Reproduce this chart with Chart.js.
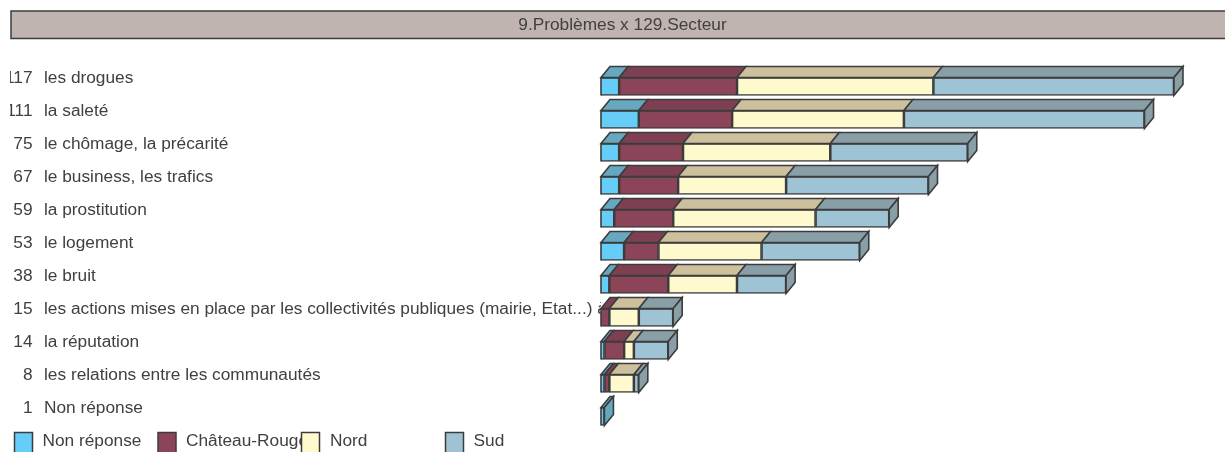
<!DOCTYPE html>
<html>
<head>
<meta charset="utf-8">
<title>9.Problèmes x 129.Secteur</title>
<script src="https://cdn.jsdelivr.net/npm/chart.js@4"></script>
<style>
body { margin: 0; background: #fff; }
canvas { display: block; }
</style>
</head>
<body>
<canvas id="chart" width="1225" height="452"></canvas>
<script>
const chartTitle = '9.Problèmes x 129.Secteur';
const categories = [
    'les drogues',
    'la saleté',
    'le chômage, la précarité',
    'le business, les trafics',
    'la prostitution',
    'le logement',
    'le bruit',
    'les actions mises en place par les collectivités publiques (mairie, Etat...) à',
    'la réputation',
    'les relations entre les communautés',
    'Non réponse'
];
const totals = [117, 111, 75, 67, 59, 53, 38, 15, 14, 8, 1];

const seriesNames = ['Non réponse', 'Château-Rouge', 'Nord', 'Sud'];
const nonReponse = [4, 8, 4, 4, 3, 5, 2, 0, 1, 1, 1];
const chateauRouge = [24, 19, 13, 12, 12, 7, 12, 2, 4, 1, 0];
const nord = [40, 35, 30, 22, 29, 21, 14, 6, 2, 5, 0];
const sud = [49, 49, 28, 29, 15, 20, 10, 7, 7, 1, 0];

const frontColors = ['#66CCF8', '#8C4459', '#FFFACD', '#9EC3D4'];
const topColors = ['#66A8BF', '#7E3F52', '#CDC09C', '#889FA8'];
const lineColor = '#3C3C3C';
const textColor = '#404040';
const font = '17.3px "Liberation Sans"';
const depthX = 9;
const depthY = 11;

// header band, row labels and the legend are not chart.js elements here
const decorPlugin = {
    id: 'decor',
    beforeDatasetsDraw(chart) {
        const ctx = chart.ctx;
        const y = chart.scales.y;
        ctx.save();
        ctx.fillStyle = '#C0B4B0';
        ctx.strokeStyle = lineColor;
        ctx.lineWidth = 1.5;
        ctx.fillRect(11, 11, 1216, 27.5);
        ctx.strokeRect(11, 11, 1216, 27.5);

        ctx.font = font;
        ctx.fillStyle = textColor;
        ctx.textBaseline = 'alphabetic';
        ctx.textAlign = 'center';
        ctx.fillText(chartTitle, 622.5, 30);

        categories.forEach((label, i) => {
            const base = y.getPixelForValue(i) - 3.5;
            ctx.save();
            ctx.beginPath();
            ctx.rect(10, base - 20, 591, 30);
            ctx.clip();
            ctx.textAlign = 'right';
            ctx.fillText(totals[i], 32.5, base);
            ctx.textAlign = 'left';
            ctx.fillText(label, 44, base);
            ctx.restore();
        });

        const boxX = [14.5, 158, 301.5, 445.5];
        const labelX = [42.5, 186, 330, 473.5];
        seriesNames.forEach((name, i) => {
            ctx.save();
            ctx.beginPath();
            ctx.rect(labelX[i], 425, (boxX[i + 1] || 1225) - labelX[i] - 0.5, 27);
            ctx.clip();
            ctx.textAlign = 'left';
            ctx.fillText(name, labelX[i], 446);
            ctx.restore();
            ctx.fillStyle = frontColors[i];
            ctx.strokeStyle = lineColor;
            ctx.lineWidth = 1.5;
            ctx.fillRect(boxX[i], 432.5, 18, 22);
            ctx.strokeRect(boxX[i], 432.5, 18, 22);
            ctx.fillStyle = textColor;
        });
        ctx.restore();
    },
    // 3D faces, placed from the bar elements
    afterDatasetsDraw(chart) {
        const ctx = chart.ctx;
        const left = chart.chartArea.left;
        ctx.save();
        ctx.strokeStyle = lineColor;
        ctx.lineWidth = 1.6;
        ctx.lineJoin = 'miter';
        categories.forEach((label, row) => {
            let last = null;
            seriesNames.forEach((name, s) => {
                const bar = chart.getDatasetMeta(s).data[row];
                if (!chart.data.datasets[s].data[row]) return;
                const x0 = Math.max(bar.base, left);
                const x1 = bar.x;
                const top = bar.y - bar.height / 2;
                ctx.fillStyle = topColors[s];
                ctx.beginPath();
                ctx.moveTo(x0, top);
                ctx.lineTo(x0 + depthX, top - depthY);
                ctx.lineTo(x1 + depthX, top - depthY);
                ctx.lineTo(x1, top);
                ctx.closePath();
                ctx.fill();
                ctx.stroke();
                last = { x: x1, top: top, bottom: top + bar.height, s: s };
            });
            if (!last) return;
            ctx.fillStyle = topColors[last.s];
            ctx.beginPath();
            ctx.moveTo(last.x, last.top);
            ctx.lineTo(last.x + depthX, last.top - depthY);
            ctx.lineTo(last.x + depthX, last.bottom - depthY);
            ctx.lineTo(last.x, last.bottom);
            ctx.closePath();
            ctx.fill();
            ctx.stroke();
            // left edge of the front, the base of the first bar sits under the scale start
            ctx.beginPath();
            ctx.moveTo(left, last.top);
            ctx.lineTo(left, last.bottom);
            ctx.stroke();
        });
        ctx.restore();
    }
};

const seriesValues = [nonReponse, chateauRouge, nord, sud];

new Chart(document.getElementById('chart').getContext('2d'), {
    type: 'bar',
    data: {
        labels: categories,
        datasets: seriesValues.map((values, i) => ({
            label: seriesNames[i],
            data: values,
            backgroundColor: frontColors[i],
            borderColor: lineColor,
            borderWidth: 1.6,
            borderSkipped: false,
            barThickness: 18
        }))
    },
    options: {
        indexAxis: 'y',
        responsive: false,
        animation: false,
        layout: { padding: { left: 601, right: 36.3, top: 70, bottom: 19 } },
        plugins: {
            legend: { display: false },
            title: { display: false },
            tooltip: { enabled: false }
        },
        scales: {
            x: { type: 'linear', stacked: true, display: false, min: 0.3, max: 120 },
            y: { stacked: true, display: false }
        }
    },
    plugins: [decorPlugin]
});
</script>
</body>
</html>
